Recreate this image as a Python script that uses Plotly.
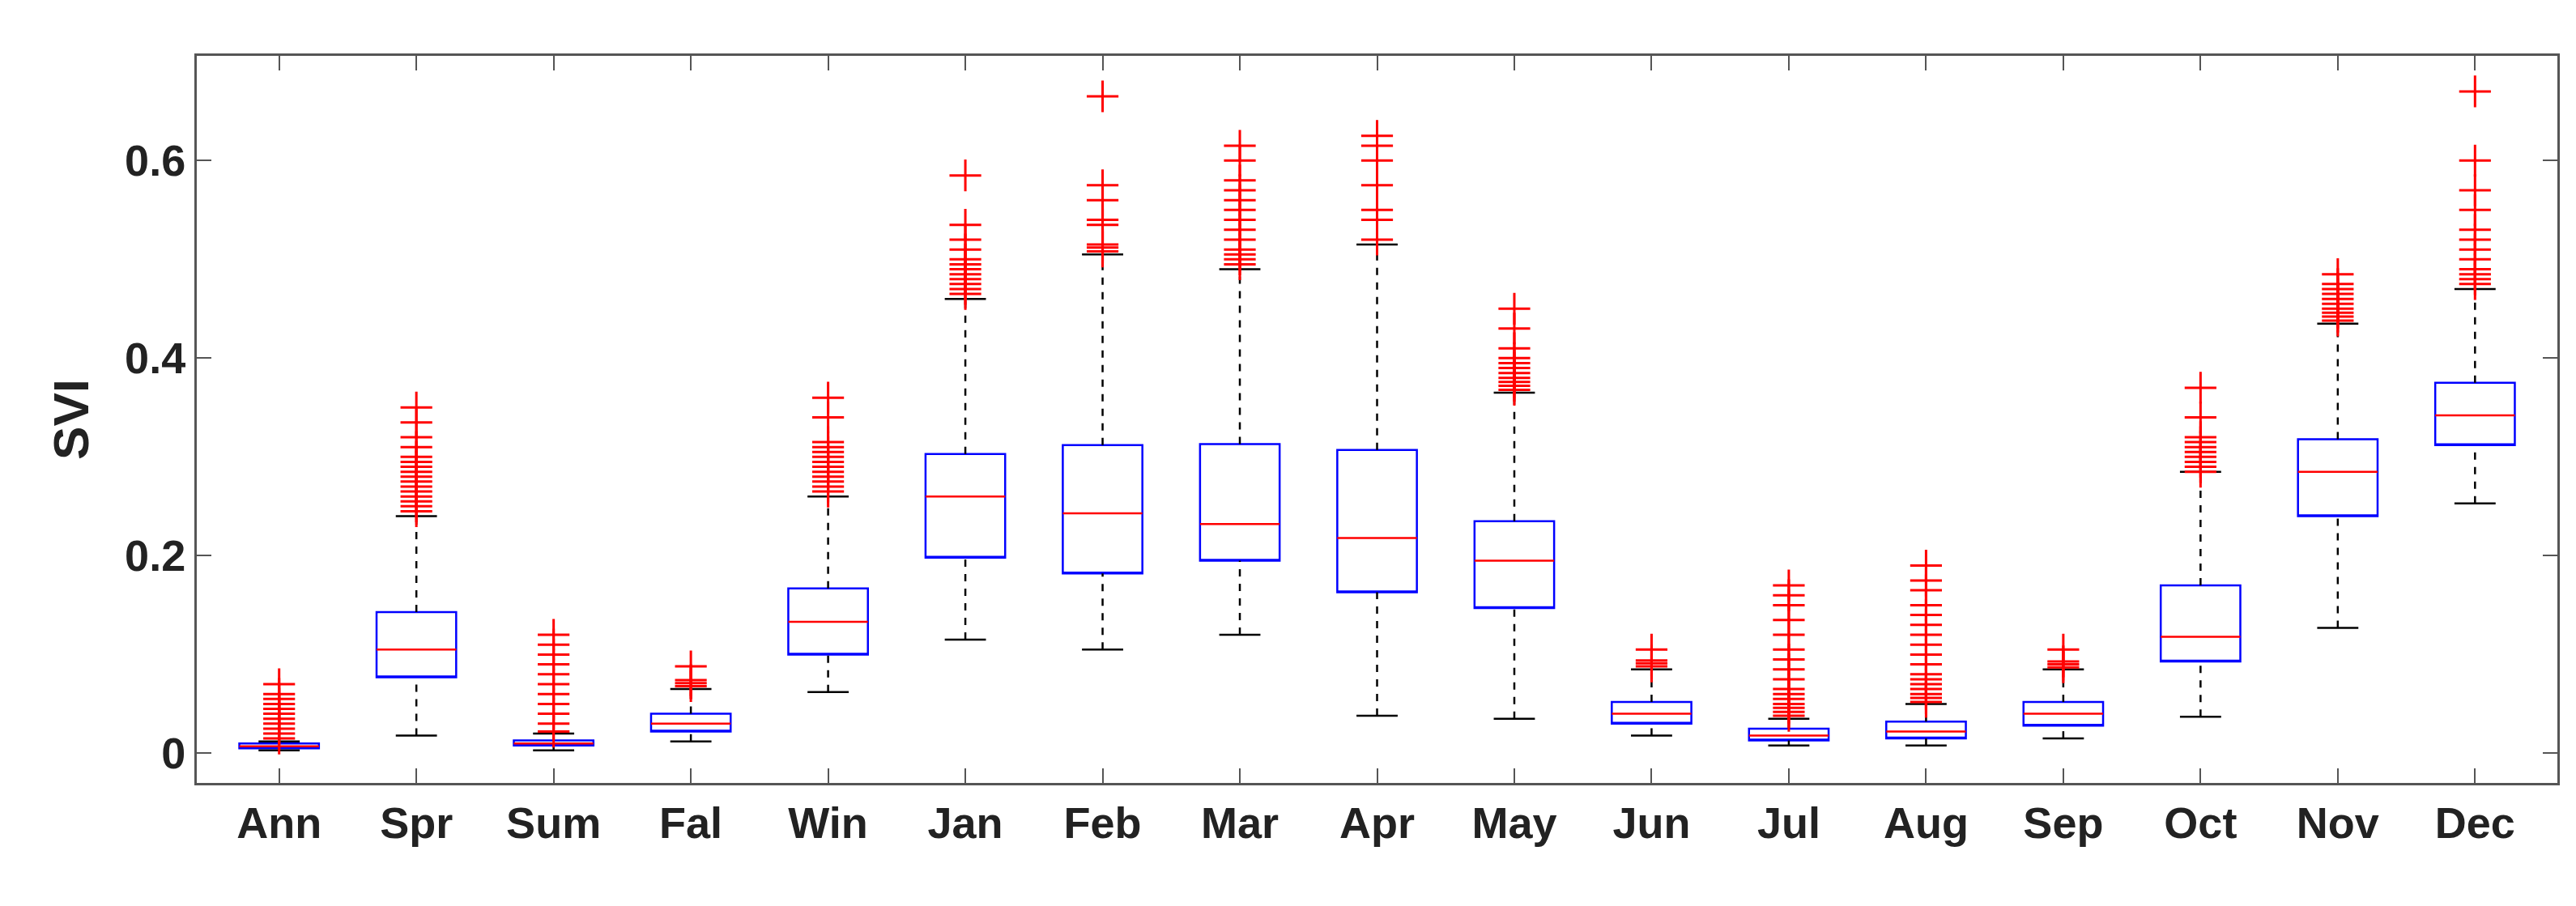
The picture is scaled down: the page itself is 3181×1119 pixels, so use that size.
import plotly.graph_objects as go

labels = ["Ann", "Spr", "Sum", "Fal", "Win", "Jan", "Feb", "Mar", "Apr",
          "May", "Jun", "Jul", "Aug", "Sep", "Oct", "Nov", "Dec"]
q1 = [0.005, 0.077, 0.008, 0.022, 0.100, 0.198, 0.182, 0.195, 0.163,
      0.147, 0.030, 0.013, 0.015, 0.028, 0.093, 0.240, 0.312]
med = [0.007, 0.105, 0.010, 0.030, 0.133, 0.260, 0.243, 0.232, 0.218,
       0.195, 0.040, 0.018, 0.022, 0.040, 0.118, 0.285, 0.342]
q3 = [0.010, 0.143, 0.013, 0.040, 0.167, 0.303, 0.312, 0.313, 0.307,
      0.235, 0.052, 0.025, 0.032, 0.052, 0.170, 0.318, 0.375]
lo = [0.003, 0.018, 0.003, 0.012, 0.062, 0.115, 0.105, 0.120, 0.038,
      0.035, 0.018, 0.008, 0.008, 0.015, 0.037, 0.127, 0.253]
hi = [0.012, 0.240, 0.020, 0.065, 0.260, 0.460, 0.505, 0.490, 0.515,
      0.365, 0.085, 0.035, 0.050, 0.085, 0.285, 0.435, 0.470]
outliers = [
    [0.015, 0.02, 0.025, 0.03, 0.035, 0.04, 0.045, 0.05, 0.055, 0.06, 0.07],
    [0.245, 0.25, 0.255, 0.26, 0.265, 0.27, 0.275, 0.28, 0.285, 0.29, 0.295, 0.30, 0.31, 0.32, 0.335, 0.35],
    [0.022, 0.03, 0.04, 0.05, 0.06, 0.07, 0.08, 0.09, 0.10, 0.11, 0.12],
    [0.068, 0.071, 0.074, 0.088],
    [0.265, 0.27, 0.275, 0.28, 0.285, 0.29, 0.295, 0.30, 0.305, 0.31, 0.315, 0.34, 0.36],
    [0.465, 0.47, 0.475, 0.48, 0.485, 0.49, 0.495, 0.50, 0.51, 0.52, 0.535, 0.585],
    [0.508, 0.512, 0.515, 0.535, 0.54, 0.56, 0.575, 0.665],
    [0.495, 0.50, 0.505, 0.51, 0.52, 0.53, 0.54, 0.55, 0.56, 0.57, 0.58, 0.60, 0.615],
    [0.52, 0.54, 0.55, 0.575, 0.60, 0.615, 0.625],
    [0.368, 0.372, 0.376, 0.38, 0.385, 0.39, 0.395, 0.40, 0.41, 0.43, 0.45],
    [0.088, 0.091, 0.094, 0.105],
    [0.038, 0.042, 0.046, 0.05, 0.055, 0.06, 0.065, 0.075, 0.085, 0.095, 0.105, 0.12, 0.135, 0.15, 0.16, 0.17],
    [0.052, 0.056, 0.06, 0.065, 0.07, 0.075, 0.08, 0.09, 0.10, 0.11, 0.12, 0.13, 0.14, 0.15, 0.165, 0.175, 0.19],
    [0.087, 0.09, 0.093, 0.105],
    [0.285, 0.29, 0.295, 0.30, 0.305, 0.31, 0.315, 0.32, 0.34, 0.37],
    [0.438, 0.442, 0.446, 0.45, 0.455, 0.46, 0.465, 0.47, 0.475, 0.485],
    [0.475, 0.48, 0.485, 0.49, 0.50, 0.51, 0.52, 0.53, 0.55, 0.57, 0.60, 0.67],
]

xs = list(range(1, len(labels) + 1))
bw = 0.29  # half box width
cw = 0.15  # half cap width

fig = go.Figure()

# dashed whiskers and caps
wx, wy, cx, cy = [], [], [], []
for i, x in enumerate(xs):
    wx += [x, x, None, x, x, None]
    wy += [lo[i], q1[i], None, q3[i], hi[i], None]
    cx += [x - cw, x + cw, None, x - cw, x + cw, None]
    cy += [lo[i], lo[i], None, hi[i], hi[i], None]
fig.add_trace(go.Scatter(x=wx, y=wy, mode="lines",
                         line=dict(color="black", width=2.5, dash="dash")))
fig.add_trace(go.Scatter(x=cx, y=cy, mode="lines",
                         line=dict(color="black", width=2.5)))

# boxes (whiskers collapsed, drawn above)
fig.add_trace(go.Box(x=xs, q1=q1, median=q1, q3=q3, lowerfence=q1, upperfence=q3,
                     width=2 * bw, fillcolor="rgba(0,0,0,0)",
                     line=dict(color="blue", width=2.5), boxpoints=False))

# medians
mx, my = [], []
for i, x in enumerate(xs):
    mx += [x - bw, x + bw, None]
    my += [med[i], med[i], None]
fig.add_trace(go.Scatter(x=mx, y=my, mode="lines", line=dict(color="red", width=2.5)))

# outliers
ox, oy = [], []
for i, x in enumerate(xs):
    ox += [x] * len(outliers[i])
    oy += outliers[i]
fig.add_trace(go.Scatter(x=ox, y=oy, mode="markers",
                         marker=dict(symbol="cross-thin", size=28, color="red",
                                     line=dict(color="red", width=3))))

fig.update_layout(
    width=3181, height=1119, showlegend=False,
    plot_bgcolor="white", paper_bgcolor="white",
    margin=dict(l=235, r=31, t=61, b=160),
    font=dict(family="Liberation Sans", size=54, color="#222"),
)
fig.update_xaxes(range=[0.4, 17.6], tickvals=xs, ticktext=["<b>%s</b>" % s for s in labels],
                 showline=True, mirror="ticks", linecolor="#555", linewidth=3,
                 ticks="inside", ticklen=18, tickcolor="#555", tickwidth=2,
                 showgrid=False, zeroline=False)
fig.update_yaxes(range=[-0.03, 0.706], tickvals=[0, 0.2, 0.4, 0.6],
                 ticktext=["<b>0</b>", "<b>0.2</b>", "<b>0.4</b>", "<b>0.6</b>"],
                 title=dict(text="<b>SVI</b>", font=dict(size=62), standoff=25),
                 showline=True, mirror="ticks", linecolor="#555", linewidth=3,
                 ticks="inside", ticklen=18, tickcolor="#555", tickwidth=2,
                 showgrid=False, zeroline=False)

fig.write_html("out.html")
